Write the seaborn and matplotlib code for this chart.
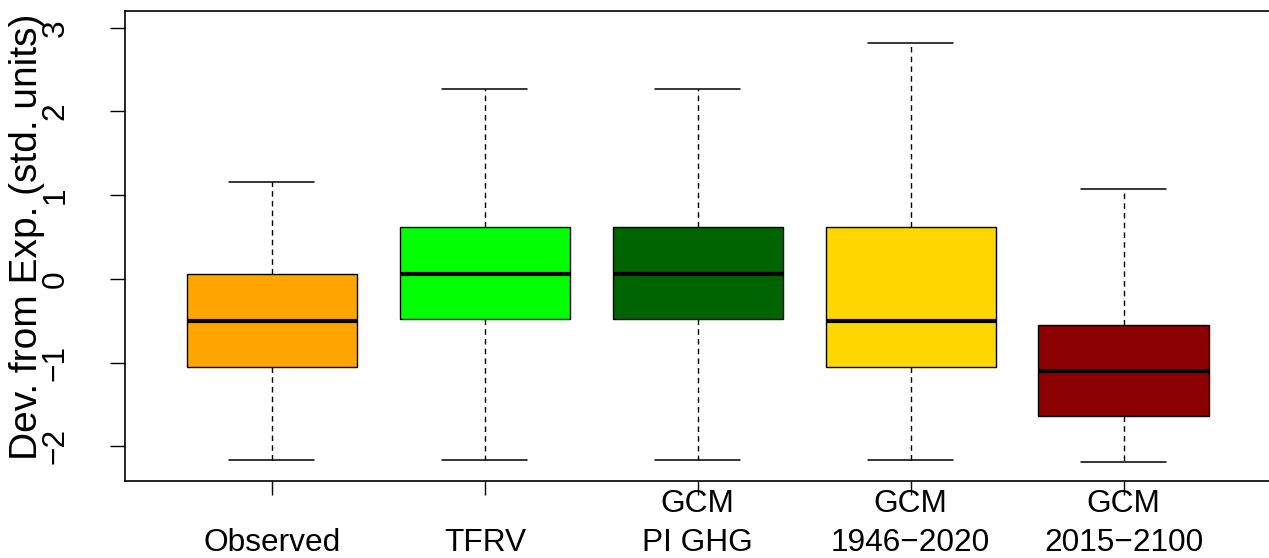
import numpy as np
import pandas as pd
import matplotlib
matplotlib.use("Agg")
import matplotlib.pyplot as plt
import seaborn as sns

# ---- data (five-number summaries) ----
categories = ["\nObserved", "\nTFRV", "GCM\nPI GHG", "GCM\n1946\u22122020", "GCM\n2015\u22122100"]
observed   = [-2.16, -1.055, -0.50, 0.056, 1.163]
tfrv       = [-2.16, -0.48, 0.06, 0.617, 2.266]
gcm_pi     = [-2.16, -0.48, 0.06, 0.617, 2.266]
gcm_hist   = [-2.16, -1.055, -0.50, 0.617, 2.816]
gcm_future = [-2.183, -1.637, -1.103, -0.553, 1.072]
colors = ["#FFA500", "#00FF00", "#006400", "#FFD700", "#8B0000"]
yticks = [-2, -1, 0, 1, 2, 3]
ylabel = "Dev. from Exp. (std. units)"

series = [observed, tfrv, gcm_pi, gcm_hist, gcm_future]
df = pd.DataFrame({
    "group": np.repeat(categories, [len(s) for s in series]),
    "value": np.concatenate(series),
})

sns.set_style("ticks")
plt.rcParams["font.family"] = ["Liberation Sans", "DejaVu Sans"]
plt.rcParams.update({"text.color": "black", "axes.labelcolor": "black",
                     "xtick.color": "black", "ytick.color": "black",
                     "axes.edgecolor": "black"})

W, H = 1269, 558
fig = plt.figure(figsize=(W / 100, H / 100), dpi=100)
left, right, top, bottom = 125.0, 1270.5, 11.0, 480.7
ax = fig.add_axes([left / W, 1 - bottom / H, (right - left) / W, (bottom - top) / H])

sns.boxplot(
    data=df, x="group", y="value", hue="group", palette=colors, order=categories,
    hue_order=categories, legend=False, width=0.8, whis=(0, 100), showfliers=False,
    linecolor="black", linewidth=1.0, saturation=1, ax=ax,
    medianprops=dict(linewidth=3.0, color="black"),
    whiskerprops=dict(linestyle=(0, (4, 3)), linewidth=1.0, color="black"),
    capprops=dict(linewidth=1.1, color="black"),
    boxprops=dict(edgecolor="black", linewidth=1.0),
)

ax.set_xlim(-0.69, 4.69)
ax.set_ylim(-2.41, 3.20)
ax.set_yticks(yticks)
ax.set_yticklabels([f"{v}".replace("-", "\u2212") for v in yticks], rotation=90, va="center", ha="center")
ax.tick_params(axis="y", length=10.8, width=1.0, pad=39, labelsize=22.75, color="black", labelcolor="black")
ax.tick_params(axis="x", length=10.0, width=1.0, pad=-4, labelsize=22.75, color="black", labelcolor="black")
for lab in ax.get_xticklabels():
    lab.set_linespacing(1.38)
ax.set_xlabel("")
ax.set_ylabel(ylabel, fontsize=28, va="center", color="black")
ax.yaxis.set_label_coords(-(left - 27) / (right - left), 0.52)
for sp in ax.spines.values():
    sp.set_visible(True)
    sp.set_linewidth(1.2)
    sp.set_color("black")
    sp.set_zorder(5)

fig.savefig("out.png", dpi=100, facecolor="white")
